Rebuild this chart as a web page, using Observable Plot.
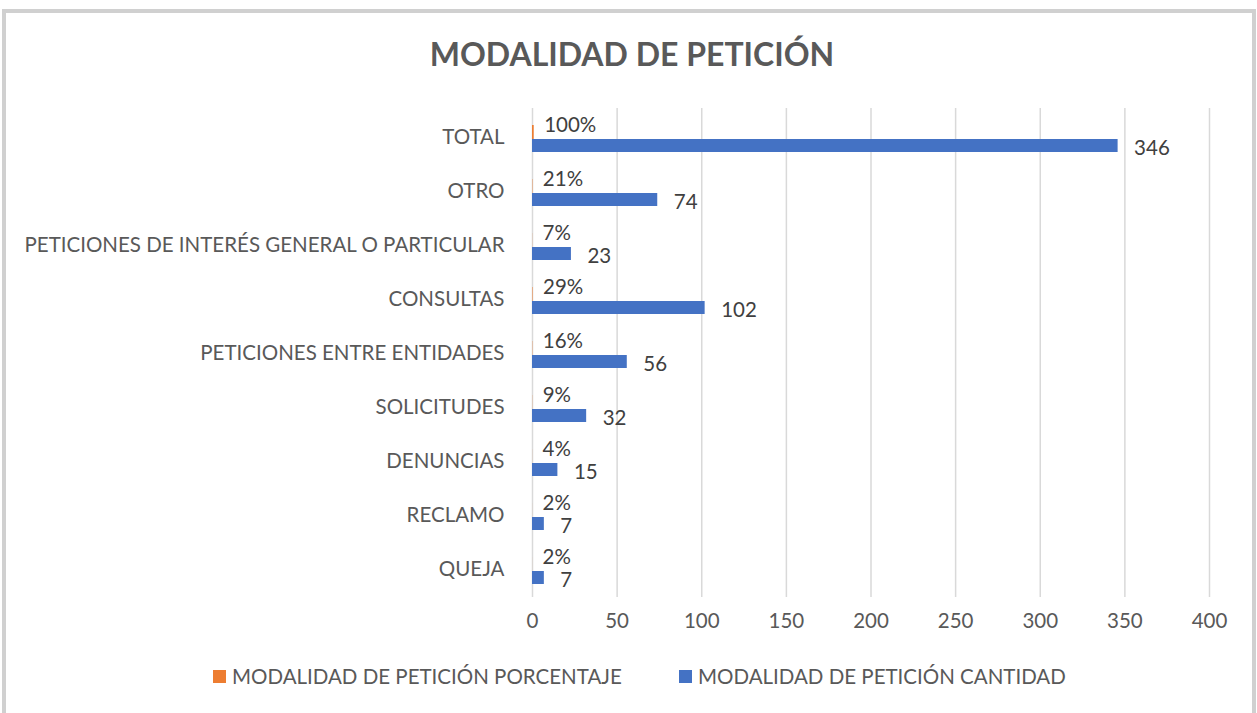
<!DOCTYPE html>
<html>
<head>
<meta charset="utf-8">
<script src="https://cdn.jsdelivr.net/npm/d3@7"></script>
<script src="https://cdn.jsdelivr.net/npm/@observablehq/plot@0.6"></script>
<style>
  html, body { margin: 0; padding: 0; background: #fff; width: 1257px; height: 713px; overflow: hidden; font-family: Lato, "Open Sans", sans-serif; }
  #frame { position: absolute; left: 2px; top: 9px; width: 1246px; height: 720px; border: 4px solid #d0d0d0; box-sizing: content-box; }
  #title { position: absolute; left: 0; top: 34px; width: 1264px; text-align: center; font-size: 32px; font-weight: bold; color: #595959; }
  #chart { position: absolute; left: 0; top: 100px; }
  .legend { position: absolute; top: 664px; font-size: 20.5px; color: #595959; display: flex; align-items: center; white-space: nowrap; }
  .sw { width: 13px; height: 13px; margin-right: 6px; }
</style>
</head>
<body>
<div id="frame"></div>
<div id="title">MODALIDAD DE PETICIÓN</div>
<div id="chart"></div>
<div class="legend" style="left:213px"><div class="sw" style="background:#ED7D31"></div>MODALIDAD DE PETICIÓN PORCENTAJE</div>
<div class="legend" style="left:679px"><div class="sw" style="background:#4472C4"></div>MODALIDAD DE PETICIÓN CANTIDAD</div>
<script>
const categories = ["TOTAL", "OTRO", "PETICIONES DE INTERÉS GENERAL O PARTICULAR", "CONSULTAS", "PETICIONES ENTRE ENTIDADES", "SOLICITUDES", "DENUNCIAS", "RECLAMO", "QUEJA"];
const cantidad = [346, 74, 23, 102, 56, 32, 15, 7, 7];
const porcentaje = [1.00, 0.21, 0.07, 0.29, 0.16, 0.09, 0.04, 0.02, 0.02];
const xTicks = [0, 50, 100, 150, 200, 250, 300, 350, 400];

const data = categories.map((c, i) => ({cat: c, cant: cantidad[i], pct: porcentaje[i]}));

const chart = Plot.plot({
  width: 1257,
  height: 540,
  marginLeft: 532,
  marginRight: 48,
  marginTop: 8,
  marginBottom: 43,
  style: {fontFamily: "Lato, 'Open Sans', sans-serif", fontSize: "20.5px", color: "#595959", background: "transparent"},
  x: {domain: [0, 400], ticks: xTicks, label: null},
  y: {domain: categories, padding: 0, label: null},
  marks: [
    Plot.ruleX(xTicks, {stroke: "#d9d9d9", strokeWidth: 1.5}),
    Plot.barX(data, {y: "cat", x: "pct", fill: "#ED7D31", insetTop: 15, insetBottom: 25}),
    Plot.barX(data, {y: "cat", x: "cant", fill: "#4472C4", insetTop: 29, insetBottom: 12}),
    Plot.text(data, {y: "cat", x: "pct", text: d => Math.round(d.pct * 100) + "%", textAnchor: "start", dx: 10, dy: -12, fill: "#404040", fontSize: 20.5}),
    Plot.text(data, {y: "cat", x: "cant", text: d => String(d.cant), textAnchor: "start", dx: 16, dy: 11, fill: "#404040", fontSize: 20.5}),
    Plot.axisX({ticks: xTicks, tickSize: 0, tickPadding: 16, label: null, fill: "#595959", fontSize: 20.5}),
    Plot.axisY({tickSize: 0, tickPadding: 28, label: null, fill: "#595959", fontSize: 20.5})
  ]
});
document.getElementById("chart").appendChild(chart);
</script>
</body>
</html>
